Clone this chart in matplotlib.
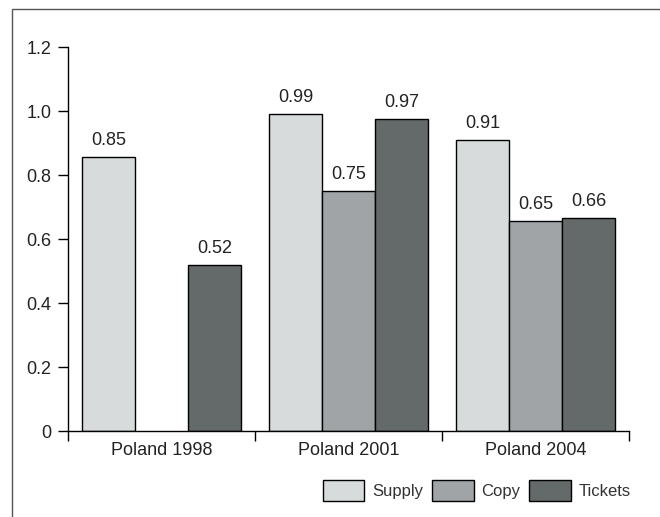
import numpy as np
import matplotlib.pyplot as plt
from matplotlib.patches import Rectangle

plt.rcParams['font.family'] = ['Liberation Sans Narrow', 'Liberation Sans', 'DejaVu Sans']

groups = ['Poland 1998', 'Poland 2001', 'Poland 2004']
series = ['Supply', 'Copy', 'Tickets']
supply = [0.855, 0.99, 0.91]
copy = [None, 0.75, 0.655]
tickets = [0.52, 0.975, 0.665]
labels = {'Supply': ['0.85', '0.99', '0.91'],
          'Copy': [None, '0.75', '0.65'],
          'Tickets': ['0.52', '0.97', '0.66']}
colors = ['#d8dbdb', '#a0a4a6', '#646a69']

fig = plt.figure(figsize=(6.6, 5.17), dpi=100)
ax = fig.add_axes([68/660, 1 - 431/517, (629 - 68)/660, (431 - 47)/517])

fig.patches.append(Rectangle((12/660, -0.1), 1.0, 1.1 - 9/517, transform=fig.transFigure,
                             fill=False, edgecolor='#555555', linewidth=1.0))

x = np.arange(len(groups))
w = 0.283
for i, (name, vals, c) in enumerate(zip(series, [supply, copy, tickets], colors)):
    for xi, v, lab in zip(x, vals, labels[name]):
        if v is None:
            continue
        pos = xi + (i - 1) * w
        ax.bar(pos, v, width=w, color=c, edgecolor='black', linewidth=1.0,
               label=name if xi == 2 else None)
        ax.text(pos, v + 0.025, lab, ha='center', va='bottom', fontsize=13, color='#222222')

ax.set_xlim(-0.5, 2.5)
ax.set_ylim(0, 1.2)
ax.set_yticks([0, 0.2, 0.4, 0.6, 0.8, 1.0, 1.2])
ax.set_yticklabels(['0', '0.2', '0.4', '0.6', '0.8', '1.0', '1.2'])
ax.set_xticks(x)
ax.set_xticklabels(groups)
ax.set_xticks([-0.5, 0.5, 1.5, 2.5], minor=True)
ax.tick_params(axis='x', which='major', length=0, pad=8, labelsize=13, labelcolor='#222222')
ax.tick_params(axis='x', which='minor', length=7, width=1.0, direction='out')
ax.tick_params(axis='y', length=7, width=1.0, direction='out', pad=5, labelsize=13, labelcolor='#222222')
for s in ['top', 'right']:
    ax.spines[s].set_visible(False)
for s in ['left', 'bottom']:
    ax.spines[s].set_linewidth(1.0)

leg = ax.legend(loc='upper right', bbox_to_anchor=(1.015, -0.11), ncol=3, frameon=False,
                handlelength=2.5, handleheight=1.6, columnspacing=0.55, handletextpad=0.45,
                fontsize=12, borderaxespad=0)
for t in leg.get_texts():
    t.set_color('#333333')

fig.savefig('out.png', dpi=100)
